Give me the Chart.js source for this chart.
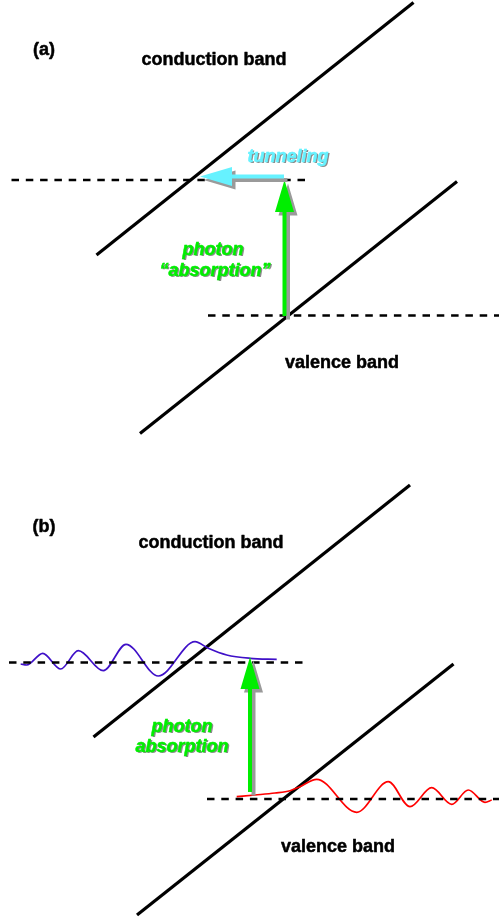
<!DOCTYPE html>
<html>
<head>
<meta charset="utf-8">
<script src="https://cdn.jsdelivr.net/npm/chart.js@4.4.1/dist/chart.umd.min.js"></script>
<style>
  html, body { margin: 0; padding: 0; background: #ffffff; }
  #wrap { width: 499px; height: 918px; }
</style>
</head>
<body>
<div id="wrap"><canvas id="c" width="499" height="918"></canvas></div>
<script>
// ---- Diagram data (x: position, y: energy axis drawn downward) ----
const conductionA = [{x: 96.5, y: 255}, {x: 413.5, y: 2.5}];
const valenceA    = [{x: 140, y: 433.5}, {x: 457, y: 181.5}];
const conductionB = [{x: 93.5, y: 737}, {x: 410, y: 485}];
const valenceB    = [{x: 137, y: 915}, {x: 453.5, y: 664}];

const levelA1 = [{x: 11.5, y: 180}, {x: 310, y: 180}];
const levelA2 = [{x: 208, y: 315.5}, {x: 499, y: 315.5}];
const levelB1 = [{x: 9, y: 662.5}, {x: 306, y: 662.5}];
const levelB2 = [{x: 207, y: 799}, {x: 499, y: 799}];

const electronWave = [
  {x: 20.7, y: 664}, {x: 26.7, y: 665}, {x: 42.7, y: 653.3}, {x: 60.7, y: 669},
  {x: 78.3, y: 650.7}, {x: 103.3, y: 670.7}, {x: 126, y: 644.3}, {x: 158.3, y: 676},
  {x: 195, y: 641.7}, {x: 208.3, y: 648.3}, {x: 226.7, y: 655}, {x: 250, y: 658.3},
  {x: 276.7, y: 659.3}
];
const holeWave = [
  {x: 236.7, y: 796.7}, {x: 255, y: 795}, {x: 275, y: 793}, {x: 290, y: 790.7},
  {x: 300, y: 786.7}, {x: 316.7, y: 779.3}, {x: 356.7, y: 812.3}, {x: 388.3, y: 781.7},
  {x: 410, y: 806.7}, {x: 431.7, y: 787.7}, {x: 451.7, y: 804.3}, {x: 468.3, y: 790},
  {x: 485, y: 802.3}, {x: 491.7, y: 800}
];

// arrows: [fromX, fromY, toX, toY]
const arrowPhotonA    = [284.5, 316, 284.5, 180];
const arrowTunnelA    = [284, 176.5, 200, 176.5];
const arrowPhotonB    = [250, 792, 250, 657];

const labelTexts = ["(a)", "conduction band", "tunneling", "photon", "\u201cabsorption\u201d", "valence band",
                    "(b)", "conduction band", "photon", "absorption", "valence band"];
const labelX     = [44, 214, 288, 213, 215, 342, 44, 211, 182, 182, 338];
const labelY     = [50, 60, 157, 250, 271, 363, 527, 543, 727, 747, 847];
const labelKind  = ["plain", "plain", "tunnel", "photon", "photon", "plain",
                    "plain", "plain", "photon", "photon", "plain"];

const GREEN = '#00ee00';
const CYAN = '#66f2ff';
const SHADOW = '#9a9a9a';

function lineDs(data, color, width, dash) {
  return {
    data: data, showLine: true, borderColor: color, borderWidth: width,
    borderDash: dash || [], pointRadius: 0, fill: false, tension: 0
  };
}
function waveDs(data, color) {
  return {
    data: data, showLine: true, borderColor: color, borderWidth: 1.7,
    pointRadius: 0, fill: false, cubicInterpolationMode: 'monotone'
  };
}

const arrowPlugin = {
  id: 'arrows',
  afterDatasetsDraw(chart) {
    const ctx = chart.ctx;
    const xs = chart.scales.x, ys = chart.scales.y;
    function drawArrow(a, color) {
      const x0 = xs.getPixelForValue(a[0]), y0 = ys.getPixelForValue(a[1]);
      const x1 = xs.getPixelForValue(a[2]), y1 = ys.getPixelForValue(a[3]);
      const dx = x1 - x0, dy = y1 - y0;
      const len = Math.hypot(dx, dy);
      const ux = dx / len, uy = dy / len;
      const px = -uy, py = ux;
      const headLen = 32, headHalf = 9.5, shaftHalf = 2;
      const bx = x1 - ux * headLen, by = y1 - uy * headLen;
      function shape(ox, oy, fillColor) {
        ctx.beginPath();
        ctx.moveTo(x0 + px * shaftHalf + ox, y0 + py * shaftHalf + oy);
        ctx.lineTo(bx + px * shaftHalf + ox, by + py * shaftHalf + oy);
        ctx.lineTo(bx + px * headHalf + ox, by + py * headHalf + oy);
        ctx.lineTo(x1 + ox, y1 + oy);
        ctx.lineTo(bx - px * headHalf + ox, by - py * headHalf + oy);
        ctx.lineTo(bx - px * shaftHalf + ox, by - py * shaftHalf + oy);
        ctx.lineTo(x0 - px * shaftHalf + ox, y0 - py * shaftHalf + oy);
        ctx.closePath();
        ctx.fillStyle = fillColor;
        ctx.fill();
      }
      ctx.save();
      shape(3.5, 3.5, SHADOW);
      shape(0, 0, color);
      ctx.restore();
    }
    drawArrow(arrowPhotonA, GREEN);
    drawArrow(arrowTunnelA, CYAN);
    drawArrow(arrowPhotonB, GREEN);
  }
};

const labelPlugin = {
  id: 'labels',
  afterDraw(chart) {
    const ctx = chart.ctx;
    const xs = chart.scales.x, ys = chart.scales.y;
    ctx.save();
    ctx.textAlign = 'center';
    ctx.textBaseline = 'middle';
    ctx.lineJoin = 'round';
    for (let i = 0; i < labelTexts.length; i++) {
      const x = xs.getPixelForValue(labelX[i]);
      const y = ys.getPixelForValue(labelY[i]);
      const kind = labelKind[i];
      if (kind === 'plain') {
        ctx.font = 'bold 18px "Liberation Sans", Arial, sans-serif';
        ctx.fillStyle = '#000000';
        ctx.strokeStyle = '#000000';
        ctx.lineWidth = 0.5;
        ctx.fillText(labelTexts[i], x, y);
        ctx.strokeText(labelTexts[i], x, y);
      } else {
        const col = kind === 'tunnel' ? CYAN : GREEN;
        ctx.font = 'italic bold 18px "Liberation Sans", Arial, sans-serif';
        ctx.fillStyle = 'rgba(110,110,110,0.8)';
        ctx.fillText(labelTexts[i], x + 1.5, y + 1.5);
        ctx.fillStyle = col;
        ctx.strokeStyle = col;
        ctx.lineWidth = 0.5;
        ctx.fillText(labelTexts[i], x, y);
        ctx.strokeText(labelTexts[i], x, y);
      }
    }
    ctx.restore();
  }
};

new Chart(document.getElementById('c'), {
  type: 'scatter',
  data: {
    datasets: [
      lineDs(levelA1, '#000', 2.3, [7.5, 6.8]),
      lineDs(levelA2, '#000', 2.3, [7.5, 6.8]),
      lineDs(levelB1, '#000', 2.3, [7.5, 6.8]),
      lineDs(levelB2, '#000', 2.3, [7.5, 6.8]),
      waveDs(electronWave, '#3f10c8'),
      waveDs(holeWave, '#ff0000'),
      lineDs(conductionA, '#000', 3.2),
      lineDs(valenceA, '#000', 3.2),
      lineDs(conductionB, '#000', 3.2),
      lineDs(valenceB, '#000', 3.2)
    ]
  },
  options: {
    responsive: false,
    animation: false,
    devicePixelRatio: 1,
    layout: { padding: 0 },
    plugins: { legend: { display: false }, tooltip: { enabled: false } },
    scales: {
      x: { type: 'linear', min: 0, max: 499, display: false },
      y: { type: 'linear', min: 0, max: 918, reverse: true, display: false }
    },
    elements: { line: { borderCapStyle: 'butt' } }
  },
  plugins: [arrowPlugin, labelPlugin]
});
</script>
</body>
</html>
